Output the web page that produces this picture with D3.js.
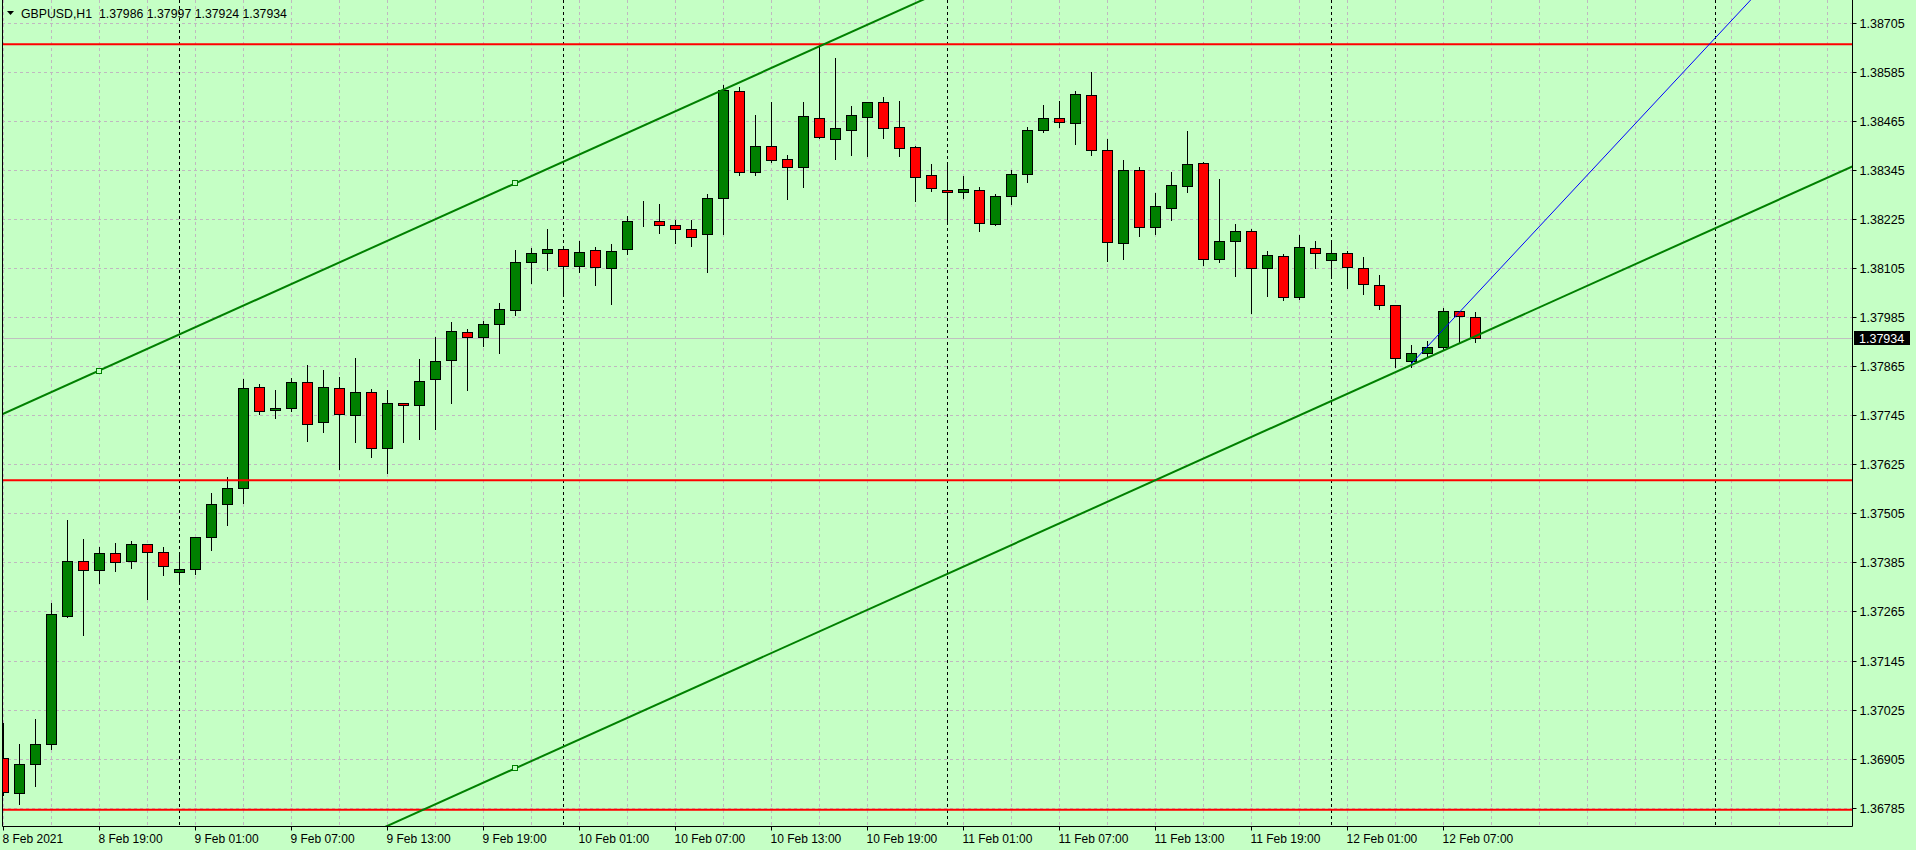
<!DOCTYPE html>
<html>
<head>
<meta charset="utf-8">
<script src="https://cdn.jsdelivr.net/npm/d3@7"></script>
<style>
  body { margin: 0; background: #c5ffc5; }
  svg { display: block; }
  text { font-family: "Liberation Sans", Arial, sans-serif; fill: #000; }
</style>
</head>
<body>
<div id="chart"></div>
<script>
// GBPUSD H1, 8 Feb 2021 13:00 .. 12 Feb 2021 09:00
var symbol = "GBPUSD,H1";
var opens = [1.36906,1.36820,1.36891,1.36940,1.37255,1.37388,1.37366,1.37407,1.37388,1.37429,
  1.37410,1.37361,1.37369,1.37446,1.37527,1.37566,1.37813,1.37757,1.37762,1.37825,
  1.37728,1.37811,1.37745,1.37801,1.37664,1.37774,1.37769,1.37833,1.37879,1.37948,
  1.37936,1.37967,1.38002,1.38119,1.38141,1.38151,1.38109,1.38148,1.38104,1.38151,
  1.38219,1.38219,1.38209,1.38200,1.38187,1.38276,1.38537,1.38339,1.38403,1.38371,
  1.38351,1.38471,1.38421,1.38443,1.38475,1.38510,1.38449,1.38400,1.38332,1.38295,
  1.38290,1.38295,1.38212,1.38280,1.38334,1.38442,1.38471,1.38459,1.38527,1.38393,
  1.38165,1.38344,1.38205,1.38253,1.38305,1.38361,1.38126,1.38170,1.38195,1.38104,
  1.38134,1.38033,1.38153,1.38124,1.38141,1.38104,1.38063,1.38014,1.37877,1.37896,
  1.37911,1.37999,1.37986];
var highs = [1.36991,1.36942,1.37003,1.37285,1.37489,1.37442,1.37422,1.37432,1.37437,1.37431,
  1.37423,1.37405,1.37446,1.37555,1.37593,1.37833,1.37821,1.37807,1.37836,1.37868,
  1.37856,1.37838,1.37885,1.37808,1.37806,1.37775,1.37882,1.37936,1.37972,1.37955,
  1.37975,1.38019,1.38149,1.38153,1.38200,1.38152,1.38171,1.38156,1.38164,1.38232,
  1.38269,1.38262,1.38222,1.38222,1.38285,1.38552,1.38547,1.38479,1.38510,1.38381,
  1.38511,1.38653,1.38619,1.38501,1.38510,1.38523,1.38513,1.38403,1.38359,1.38364,
  1.38330,1.38302,1.38285,1.38344,1.38449,1.38504,1.38514,1.38538,1.38585,1.38421,
  1.38369,1.38351,1.38288,1.38340,1.38440,1.38364,1.38323,1.38213,1.38200,1.38146,
  1.38139,1.38185,1.38170,1.38170,1.38146,1.38131,1.38087,1.38015,1.37916,1.37926,
  1.38006,1.38000,1.37997];
var lows = [1.36816,1.36793,1.36839,1.36928,1.37252,1.37207,1.37335,1.37365,1.37372,1.37296,
  1.37355,1.37338,1.37357,1.37415,1.37477,1.37531,1.37749,1.37739,1.37756,1.37683,
  1.37705,1.37614,1.37680,1.37643,1.37604,1.37680,1.37687,1.37712,1.37774,1.37807,
  1.37914,1.37898,1.37990,1.38069,1.38101,1.38039,1.38096,1.38064,1.38018,1.38140,
  1.38208,1.38191,1.38167,1.38160,1.38096,1.38189,1.38333,1.38333,1.38364,1.38275,
  1.38304,1.38422,1.38372,1.38381,1.38379,1.38423,1.38379,1.38269,1.38294,1.38221,
  1.38277,1.38196,1.38211,1.38262,1.38316,1.38438,1.38451,1.38409,1.38382,1.38123,
  1.38128,1.38184,1.38189,1.38223,1.38292,1.38113,1.38119,1.38086,1.37996,1.38037,
  1.38026,1.38028,1.38104,1.38087,1.38055,1.38042,1.38005,1.37864,1.37862,1.37891,
  1.37904,1.37925,1.37924];
var closes = [1.36823,1.36891,1.36942,1.37258,1.37388,1.37366,1.37407,1.37385,1.37429,1.37410,
  1.37375,1.37370,1.37446,1.37527,1.37566,1.37811,1.37756,1.37762,1.37825,1.37723,
  1.37813,1.37747,1.37801,1.37664,1.37774,1.37769,1.37828,1.37877,1.37950,1.37936,
  1.37967,1.38004,1.38119,1.38141,1.38151,1.38109,1.38143,1.38107,1.38146,1.38219,
  1.38219,1.38209,1.38200,1.38180,1.38276,1.38540,1.38339,1.38403,1.38368,1.38351,
  1.38476,1.38425,1.38447,1.38479,1.38510,1.38448,1.38399,1.38327,1.38300,1.38290,
  1.38298,1.38214,1.38280,1.38334,1.38442,1.38471,1.38461,1.38530,1.38393,1.38168,
  1.38344,1.38205,1.38256,1.38307,1.38359,1.38126,1.38170,1.38195,1.38104,1.38136,
  1.38033,1.38156,1.38141,1.38141,1.38107,1.38065,1.38014,1.37884,1.37896,1.37911,
  1.37999,1.37987,1.37934];

var priceTicks = [1.36785,1.36905,1.37025,1.37145,1.37265,1.37385,1.37505,1.37625,1.37745,
  1.37865,1.37985,1.38105,1.38225,1.38345,1.38465,1.38585,1.38705];
var timeTickIdx = [0,6,12,18,24,30,36,42,48,54,60,66,72,78,84,90];
var timeTickLabels = ["8 Feb 2021","8 Feb 19:00","9 Feb 01:00","9 Feb 07:00","9 Feb 13:00",
  "9 Feb 19:00","10 Feb 01:00","10 Feb 07:00","10 Feb 13:00","10 Feb 19:00","11 Feb 01:00",
  "11 Feb 07:00","11 Feb 13:00","11 Feb 19:00","12 Feb 01:00","12 Feb 07:00"];
var daySeparators = [11,35,59,83,107];
var redLevels = [1.38652,1.37586,1.36780];
var channelUpper = [[6,1.37854],[32,1.38312]];
var channelLower = [32,1.36881];
var blueLine = [[88,1.37870],[109,1.38751]];
var lastPrice = 1.37934;

var W = 1916, H = 850,
    left = 2, right = 1852, bottom = 826,
    bg = "#c5ffc5", bull = "#008000", bear = "#ff0000";

var x = d3.scaleLinear().domain([0, 92]).range([3, 1475]),
    y = d3.scaleLinear().domain([1.36785, 1.38705]).range([807.7, 22.7]);
var lastIdx = x.invert(right);

var svg = d3.select("#chart").append("svg")
    .attr("width", W).attr("height", H);

svg.append("rect").attr("width", W).attr("height", H).attr("fill", bg);

svg.append("clipPath").attr("id", "plot")
  .append("rect").attr("x", left + 1).attr("y", 0)
    .attr("width", right - left - 1).attr("height", bottom);

var plot = svg.append("g").attr("clip-path", "url(#plot)");

function px(v) { return Math.round(v) + 0.5; }

// grid
plot.selectAll(".hgrid").data(priceTicks).enter().append("line")
    .attr("x1", left).attr("x2", right)
    .attr("y1", function(d) { return px(y(d)); })
    .attr("y2", function(d) { return px(y(d)); })
    .attr("stroke", "#c0b8c0").attr("stroke-dasharray", "3,3");

plot.selectAll(".vgrid").data(d3.range(0, lastIdx, 3)).enter().append("line")
    .attr("x1", function(d) { return px(x(d)); })
    .attr("x2", function(d) { return px(x(d)); })
    .attr("y1", 0).attr("y2", bottom)
    .attr("stroke", "#c0b8c0").attr("stroke-dasharray", "3,3");

// day separators
plot.selectAll(".sep").data(daySeparators).enter().append("line")
    .attr("x1", function(d) { return px(x(d)); })
    .attr("x2", function(d) { return px(x(d)); })
    .attr("y1", 0).attr("y2", bottom)
    .attr("stroke", "#000").attr("stroke-dasharray", "3,3");

// current price line
plot.append("line")
    .attr("x1", left).attr("x2", right)
    .attr("y1", px(y(lastPrice))).attr("y2", px(y(lastPrice)))
    .attr("stroke", "#c0c0c0");

// candles
var candles = plot.selectAll(".candle").data(d3.range(opens.length)).enter().append("g");

candles.append("line")
    .attr("x1", function(i) { return x(i) + 0.5; })
    .attr("x2", function(i) { return x(i) + 0.5; })
    .attr("y1", function(i) { return Math.round(y(highs[i])); })
    .attr("y2", function(i) { return Math.round(y(lows[i])) + 1; })
    .attr("stroke", "#000");

candles.append("rect")
    .attr("x", function(i) { return x(i) - 4.5; })
    .attr("y", function(i) { return px(y(Math.max(opens[i], closes[i]))); })
    .attr("width", 10)
    .attr("height", function(i) {
      return Math.round(y(Math.min(opens[i], closes[i]))) - Math.round(y(Math.max(opens[i], closes[i])));
    })
    .attr("fill", function(i) {
      if (closes[i] > opens[i]) return bull;
      if (closes[i] < opens[i]) return bear;
      return "none";
    })
    .attr("stroke", "#000");

// horizontal levels
plot.selectAll(".level").data(redLevels).enter().append("line")
    .attr("x1", left).attr("x2", right)
    .attr("y1", function(d) { return y(d); })
    .attr("y2", function(d) { return y(d); })
    .attr("stroke", "#ff0000").attr("stroke-width", 2);

// trend lines, extended across the whole plot
function ray(p1, p2) {
  var slope = (p2[1] - p1[1]) / (p2[0] - p1[0]);
  var a = -10, b = lastIdx + 10;
  return [[x(a), y(p1[1] + (a - p1[0]) * slope)], [x(b), y(p1[1] + (b - p1[0]) * slope)]];
}

var upper = ray(channelUpper[0], channelUpper[1]);
var slopeUp = (channelUpper[1][1] - channelUpper[0][1]) / (channelUpper[1][0] - channelUpper[0][0]);
var lower = ray(channelLower, [channelLower[0] + 1, channelLower[1] + slopeUp]);
var blue = ray(blueLine[0], blueLine[1]);

var lineGen = d3.line();
plot.append("path").attr("d", lineGen(upper))
    .attr("stroke", bull).attr("stroke-width", 2).attr("fill", "none");
plot.append("path").attr("d", lineGen(lower))
    .attr("stroke", bull).attr("stroke-width", 2).attr("fill", "none");
plot.append("path")
    .attr("d", lineGen([[x(blueLine[0][0]), y(blueLine[0][1])], blue[1]]))
    .attr("stroke", "#0000ff").attr("stroke-width", 1).attr("fill", "none");

// channel anchor points
var anchors = [channelUpper[0], channelUpper[1], channelLower];
plot.selectAll(".anchor").data(anchors).enter().append("rect")
    .attr("x", function(d) { return Math.round(x(d[0])) - 2.5; })
    .attr("y", function(d) { return Math.round(y(d[1])) - 2.5; })
    .attr("width", 5).attr("height", 5)
    .attr("fill", bg).attr("stroke", bull);

// frame
svg.append("path")
    .attr("d", "M" + (left + 0.5) + ",0V" + (bottom + 0.5) + "H" + (right + 0.5) + "V0")
    .attr("fill", "none").attr("stroke", "#000");

// price axis
var yAxis = d3.axisRight(y).tickValues(priceTicks).tickSize(4).tickPadding(3)
    .tickFormat(d3.format(".5f"));
var ya = svg.append("g").attr("transform", "translate(" + (right + 0.5) + ",0)").call(yAxis);
ya.select(".domain").remove();
ya.selectAll("text").style("font-size", "12.5px").style("font-family", "Liberation Sans, Arial, sans-serif");
ya.selectAll(".tick").attr("transform", function(d) { return "translate(0," + px(y(d)) + ")"; });

// time axis
var xAxis = d3.axisBottom(x).tickValues(timeTickIdx).tickSize(4).tickPadding(4)
    .tickFormat(function(d, k) { return timeTickLabels[k]; });
var xa = svg.append("g").attr("transform", "translate(0," + (bottom + 0.5) + ")").call(xAxis);
xa.select(".domain").remove();
xa.selectAll(".tick").attr("transform", function(d) { return "translate(" + px(x(d)) + ",0)"; });
xa.selectAll("text").attr("text-anchor", "start").attr("x", -1)
    .style("font-size", "12px").style("font-family", "Liberation Sans, Arial, sans-serif");

// last price marker
svg.append("rect")
    .attr("x", right + 2).attr("y", Math.round(y(lastPrice)) - 7)
    .attr("width", 56).attr("height", 14).attr("fill", "#000");
svg.append("text")
    .attr("x", right + 7).attr("y", Math.round(y(lastPrice)) + 4.5)
    .style("font-size", "12.5px").style("fill", "#fff")
    .text(d3.format(".5f")(lastPrice));

// header
var last = opens.length - 1;
svg.append("path").attr("d", "M7,11H14L10.5,15Z").attr("fill", "#000");
svg.append("text").attr("x", 21).attr("y", 17.5).style("font-size", "12.3px")
    .text(symbol + "\u00a0\u00a0" + [opens[last], highs[last], lows[last], closes[last]].map(d3.format(".5f")).join(" "));
</script>
</body>
</html>
